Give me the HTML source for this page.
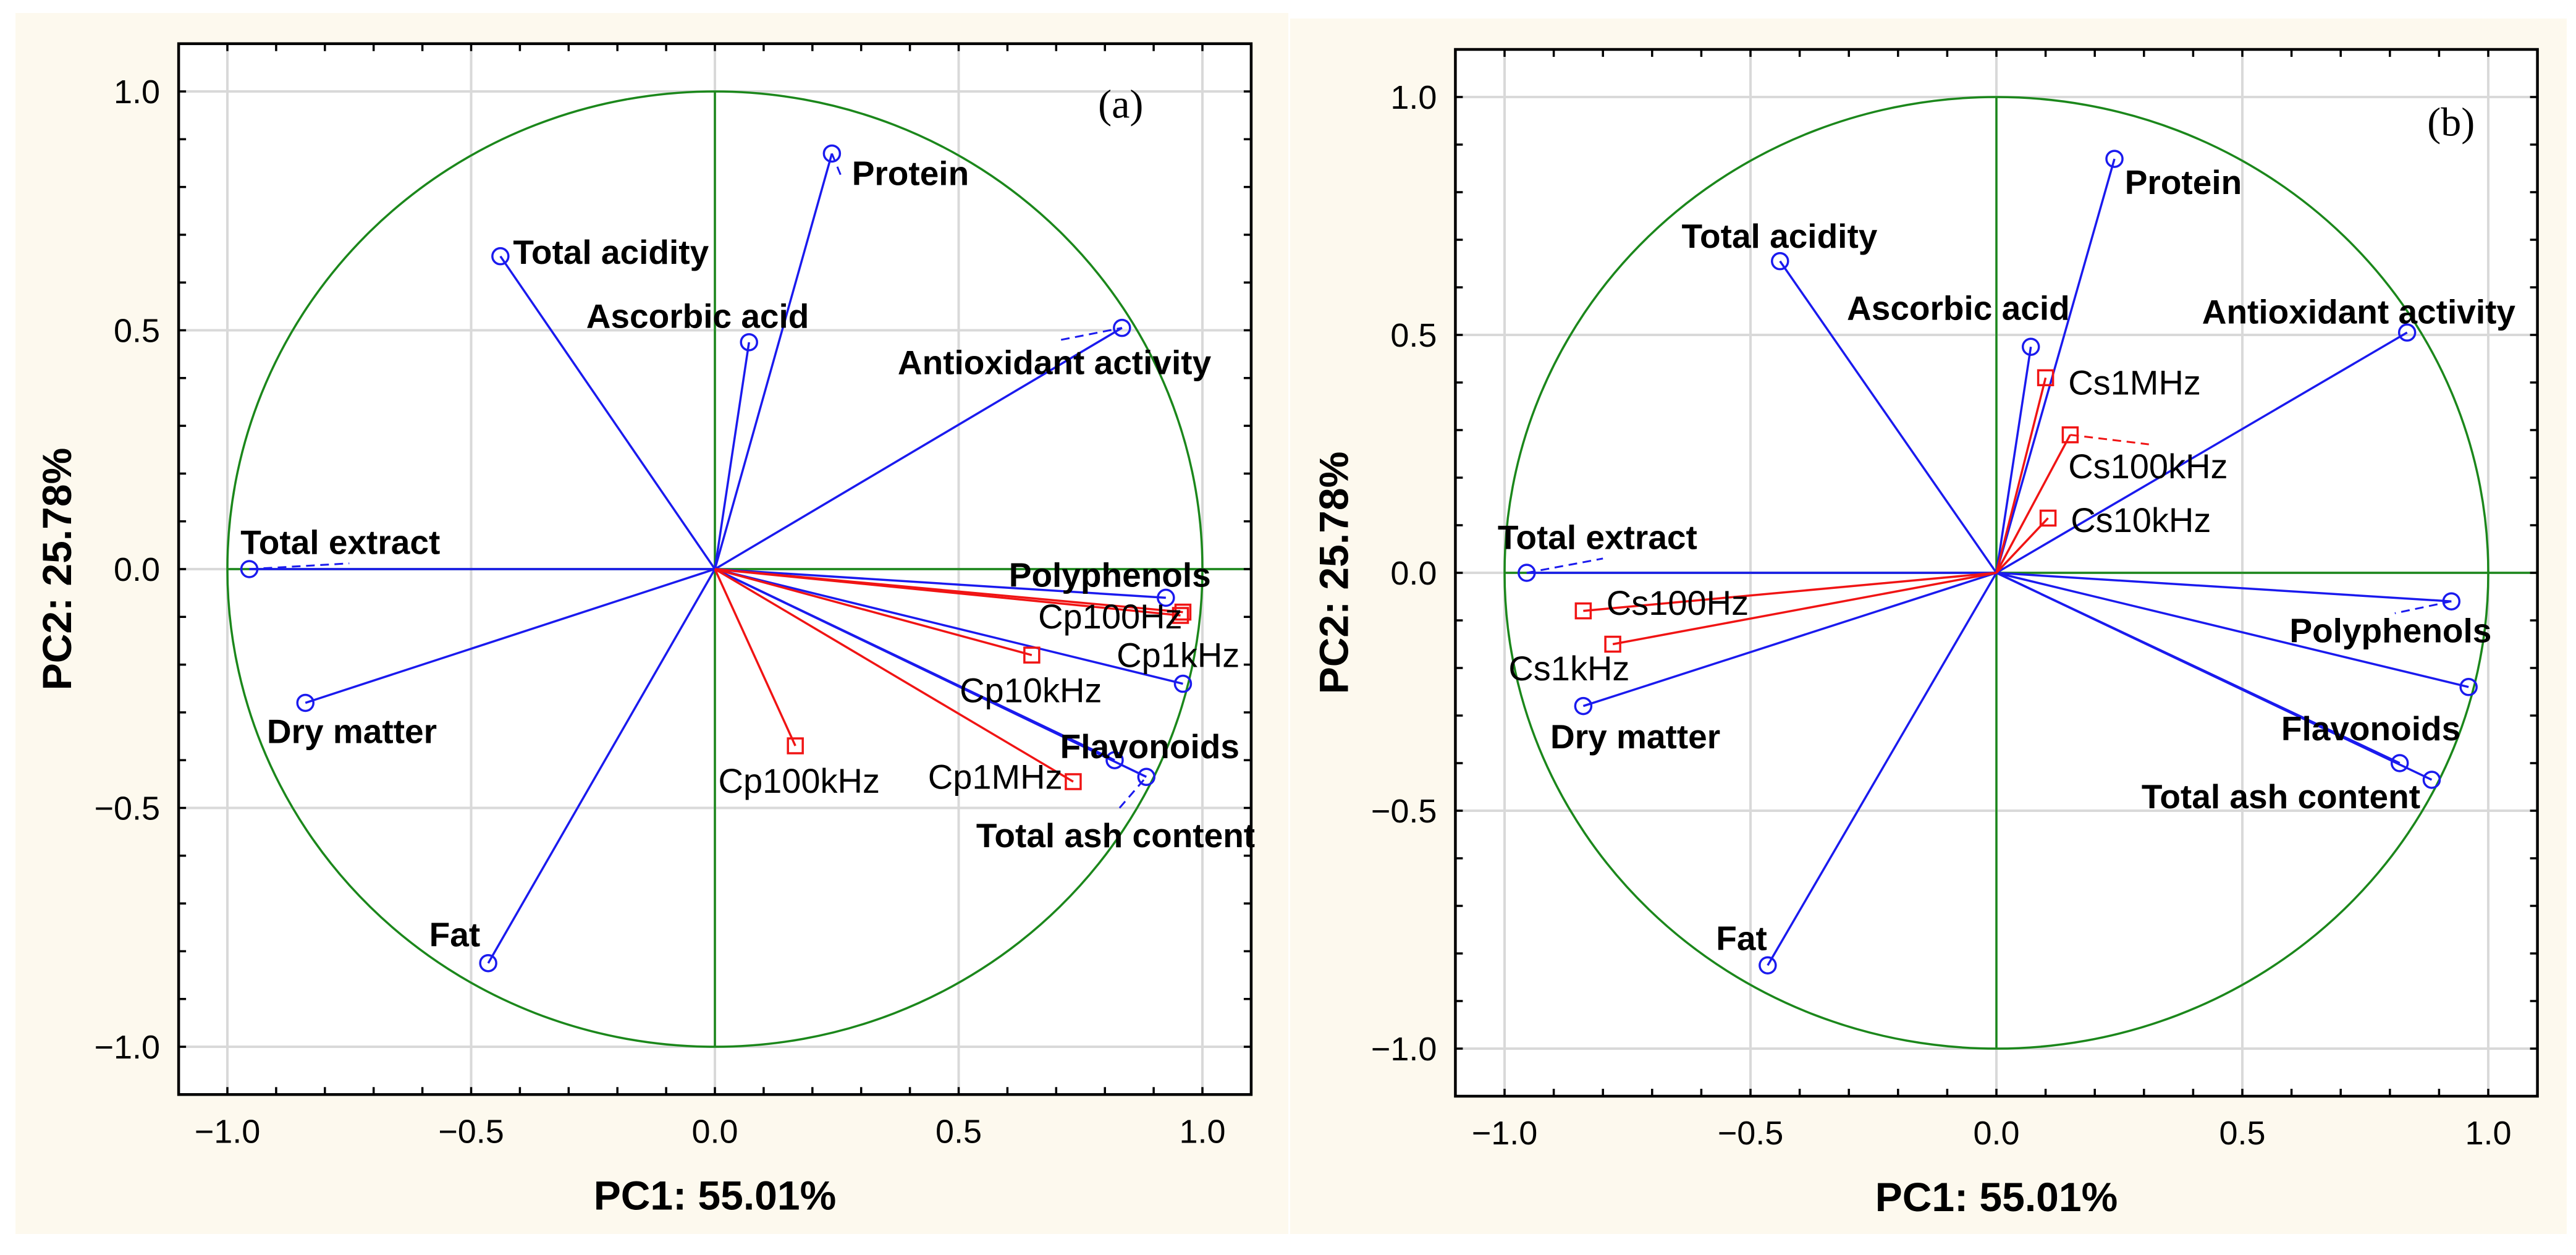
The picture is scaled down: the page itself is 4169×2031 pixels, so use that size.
<!DOCTYPE html>
<html><head><meta charset="utf-8"><style>
html,body{margin:0;padding:0;background:#fff;}
svg{display:block;}
text{font-family:"Liberation Sans",sans-serif;}
</style></head><body>
<svg id="chart" xmlns="http://www.w3.org/2000/svg" width="4169" height="2031" viewBox="0 0 4169 2031">
<rect x="0" y="0" width="4169" height="2031" fill="#ffffff"/>
<rect x="25" y="21" width="2060" height="1976" fill="#fdf9ee"/>
<rect x="2088" y="30" width="2066" height="1967" fill="#fdf9ee"/>
<g id="panelA"></g>
<g id="panelB"></g>
</svg>
<script>
// ---- Variable loadings (shared by both panels) ----
const varNames = ["Protein","Total acidity","Ascorbic acid","Antioxidant activity","Total extract","Dry matter","Fat","Polyphenols","Unlabeled","Flavonoids","Total ash content"];
const varPC1 = [0.24,-0.44,0.07,0.835,-0.955,-0.84,-0.465,0.925,0.96,0.82,0.885];
const varPC2 = [0.87,0.655,0.475,0.505,0.0,-0.28,-0.825,-0.06,-0.24,-0.40,-0.435];

// ---- Panel (a) supplementary variables ----
const aNames = ["Cp100Hz","Cp1kHz","Cp10kHz","Cp100kHz","Cp1MHz"];
const aPC1 = [0.96,0.955,0.65,0.165,0.735];
const aPC2 = [-0.09,-0.097,-0.18,-0.37,-0.445];

// ---- Panel (b) supplementary variables ----
const bNames = ["Cs100Hz","Cs1kHz","Cs10kHz","Cs100kHz","Cs1MHz"];
const bPC1 = [-0.84,-0.78,0.105,0.15,0.10];
const bPC2 = [-0.08,-0.15,0.115,0.29,0.41];

// ---- Tick labels ----
const tickVals = [-1.0,-0.5,0.0,0.5,1.0];
const tickLabels = ["\u22121.0","\u22120.5","0.0","0.5","1.0"];

// ---- Label anchors (data coords: left x, baseline y) ----
const aVarLabelX = [0.281,-0.414,-0.264,0.375,-0.973,-0.919,-0.586,0.603,null,0.708,0.536];
const aVarLabelY = [0.804,0.639,0.505,0.408,0.032,-0.364,-0.79,-0.037,null,-0.396,-0.582];
const aSupLabelX = [0.663,0.824,0.502,0.007,0.437];
const aSupLabelY = [-0.124,-0.205,-0.279,-0.468,-0.46];
const bVarLabelX = [0.261,-0.64,-0.304,0.418,-1.014,-0.907,-0.57,0.596,null,0.579,0.295];
const bVarLabelY = [0.796,0.683,0.532,0.524,0.05,-0.369,-0.793,-0.146,null,-0.352,-0.495];
const bSupLabelX = [-0.793,-0.992,0.151,0.146,0.146];
const bSupLabelY = [-0.088,-0.226,0.086,0.199,0.375];

const NS = "http://www.w3.org/2000/svg";
function mk(parent, tag, attrs){
  const e = document.createElementNS(NS, tag);
  for (const k in attrs) e.setAttribute(k, attrs[k]);
  parent.appendChild(e);
  return e;
}

function drawPanel(g, cfg){
  const sx = v => cfg.x0 + v*cfg.ux;
  const sy = v => cfg.y0 - v*cfg.uy;
  const L = sx(-1.1), R = sx(1.1), T = sy(1.1), B = sy(-1.1);
  let bg = mk(g,"rect",{x:L,y:T,width:R-L,height:B-T,fill:"#ffffff"});
  
  
  tickVals.forEach((v,i)=>{
    let gl = mk(g,"line",{x1:sx(v),x2:sx(v),y1:T,y2:B,stroke:"#d9d9d9","stroke-width":4});
    
    
    let gh = mk(g,"line",{x1:L,x2:R,y1:sy(v),y2:sy(v),stroke:"#d9d9d9","stroke-width":4});
    
    
  });
  let circ = mk(g,"ellipse",{cx:sx(0),cy:sy(0),rx:cfg.ux,ry:cfg.uy,fill:"none",stroke:"#1b871b","stroke-width":3.5});
  
  
  let ax = mk(g,"line",{x1:sx(-1),x2:R,y1:sy(0),y2:sy(0),stroke:"#1b871b","stroke-width":3.5});
  
  
  let ay = mk(g,"line",{x1:sx(0),x2:sx(0),y1:sy(1),y2:sy(-1),stroke:"#1b871b","stroke-width":3.5});
  
  
  for (let k=-10;k<=10;k++){
    const v = k/10, len = 12;
    [[sx(v),B,sx(v),B-len],[sx(v),T,sx(v),T+len],[L,sy(v),L+len,sy(v)],[R,sy(v),R-len,sy(v)]].forEach(c=>{
      let t = mk(g,"line",{x1:c[0],y1:c[1],x2:c[2],y2:c[3],stroke:"#000","stroke-width":3.5});
      
      
    });
  }
  let fr = mk(g,"rect",{x:L,y:T,width:R-L,height:B-T,fill:"none",stroke:"#000","stroke-width":4.5});
  
  
  tickVals.forEach((v,i)=>{
    let tx = mk(g,"text",{x:sx(v),y:B+78,"font-size":54,"text-anchor":"middle",fill:"#000"});
    tx.textContent = tickLabels[i];
    
    
    let ty = mk(g,"text",{x:L-30,y:sy(v)+19,"font-size":54,"text-anchor":"end",fill:"#000"});
    ty.textContent = tickLabels[i];
    
    
  });
  let xt = mk(g,"text",{x:sx(0),y:B+186,"font-size":66,"font-weight":"bold","text-anchor":"middle"});
  xt.textContent = "PC1: 55.01%";
  
  
  const ytx = L-174, yty = sy(0);
  let yt = mk(g,"text",{x:ytx,y:yty,"font-size":66,"font-weight":"bold","text-anchor":"middle",transform:"rotate(-90 "+ytx+" "+yty+")"});
  yt.textContent = "PC2: 25.78%";
  
  
  let tag = mk(g,"text",{x:sx(cfg.tagX),y:sy(cfg.tagY),"font-size":66,style:"font-family:'Liberation Serif',serif"});
  tag.textContent = cfg.tag;
  
  
  cfg.leaders.forEach(d=>{
    let ld = mk(g,"line",{x1:sx(d[0]),y1:sy(d[1]),x2:sx(d[2]),y2:sy(d[3]),stroke:d[4],"stroke-width":3,"stroke-dasharray":"14,9"});
    
    
  });
  varNames.forEach((n,i)=>{
    let ln = mk(g,"line",{x1:sx(0),y1:sy(0),x2:sx(varPC1[i]),y2:sy(varPC2[i]),stroke:"#1a1aee","stroke-width":3.5});
    
    
  });
  cfg.supNames.forEach((n,i)=>{
    let ln = mk(g,"line",{x1:sx(0),y1:sy(0),x2:sx(cfg.supX[i]),y2:sy(cfg.supY[i]),stroke:"#f01414","stroke-width":3.5});
    
    
  });
  varNames.forEach((n,i)=>{
    let c = mk(g,"circle",{cx:sx(varPC1[i]),cy:sy(varPC2[i]),r:13,fill:"none",stroke:"#1a1aee","stroke-width":3.5});
    
    
  });
  cfg.supNames.forEach((n,i)=>{
    let s = mk(g,"rect",{x:sx(cfg.supX[i])-12,y:sy(cfg.supY[i])-12,width:24,height:24,fill:"none",stroke:"#f01414","stroke-width":3.5});
    
    
  });
  varNames.forEach((n,i)=>{
    if (cfg.varLX[i]===null) return;
    let t = mk(g,"text",{x:sx(cfg.varLX[i]),y:sy(cfg.varLY[i]),"font-size":55,"font-weight":"bold",fill:"#000"});
    t.textContent = n;
    
    
  });
  cfg.supNames.forEach((n,i)=>{
    let t = mk(g,"text",{x:sx(cfg.supLX[i]),y:sy(cfg.supLY[i]),"font-size":56,fill:"#000"});
    t.textContent = n;
    
    
  });
}

drawPanel(document.getElementById("panelA"), {
  id:"panel-a", x0:1157, ux:789, y0:921, uy:773, tag:"(a)", tagX:0.786, tagY:0.945,
  supNames:aNames, supX:aPC1, supY:aPC2,
  varLX:aVarLabelX, varLY:aVarLabelY, supLX:aSupLabelX, supLY:aSupLabelY,
  leaders:[[0.24,0.87,0.26,0.82,"#1a1aee"],[0.71,0.48,0.835,0.505,"#1a1aee"],[-0.955,0,-0.75,0.012,"#1a1aee"],[0.83,-0.50,0.885,-0.435,"#1a1aee"]]
});
drawPanel(document.getElementById("panelB"), {
  id:"panel-b", x0:3231, ux:796, y0:927, uy:770, tag:"(b)", tagX:0.876, tagY:0.919,
  supNames:bNames, supX:bPC1, supY:bPC2,
  varLX:bVarLabelX, varLY:bVarLabelY, supLX:bSupLabelX, supLY:bSupLabelY,
  leaders:[[-0.955,0,-0.8,0.03,"#1a1aee"],[0.15,0.29,0.31,0.27,"#f01414"],[0.925,-0.06,0.81,-0.085,"#1a1aee"]]
});
</script>
</body></html>
